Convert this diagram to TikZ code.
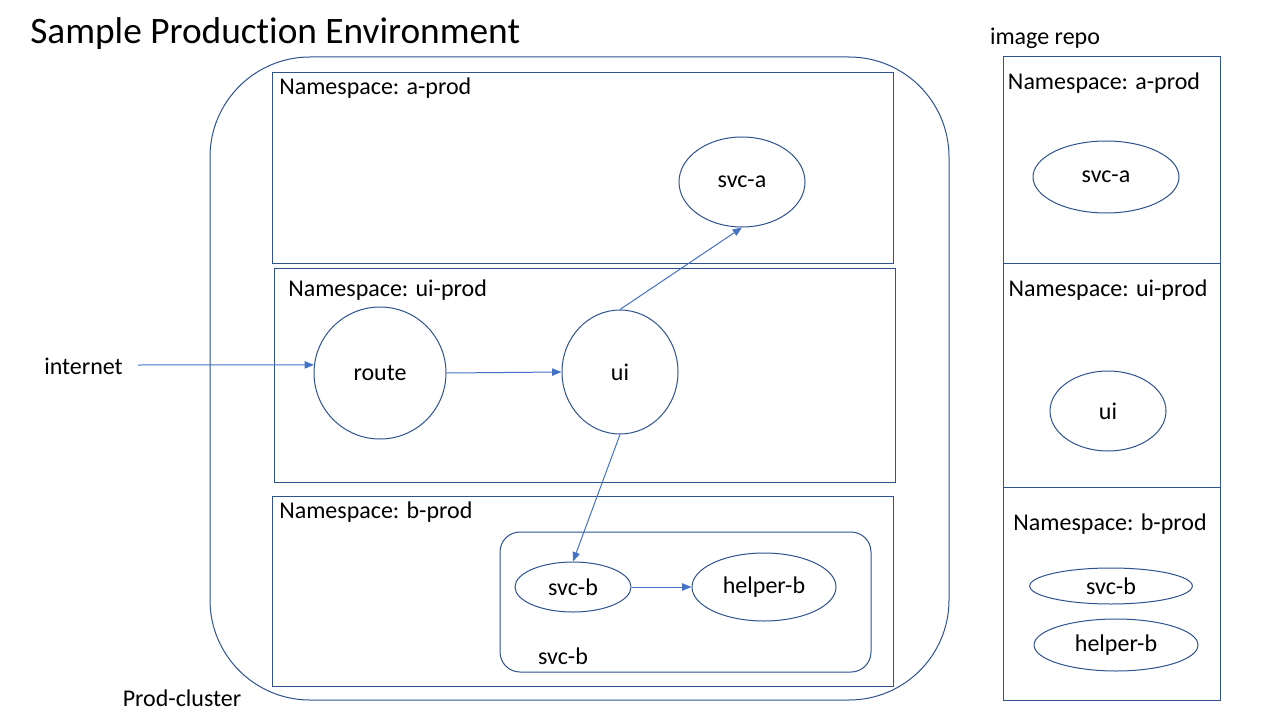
\documentclass[tikz,border=0pt]{standalone}
\usepackage{fontspec}
\setmainfont{Carlito}[Ligatures={NoCommon,NoRequired,NoContextual}]
\usetikzlibrary{shapes.geometric,arrows.meta}
\definecolor{edge}{HTML}{2F528F}
\definecolor{arrowc}{HTML}{4472C4}
\begin{document}
\begin{tikzpicture}[x=0.75pt,y=-0.75pt,
  lbl/.style={font=\fontsize{18}{21}\selectfont, inner sep=0pt, text=black},
  box/.style={draw=edge, line width=0.75pt},
  ell/.style={ellipse, draw=edge, line width=0.75pt, inner sep=0pt, font=\fontsize{18}{21}\selectfont},
  conn/.style={draw=arrowc, line width=0.75pt, -{Triangle[length=7pt,width=5.5pt]}}]
\useasboundingbox (0,0) rectangle (1280,720);
\fill[white] (0,0) rectangle (1280,720);

\node[anchor=west, inner sep=0pt, font=\fontsize{28}{32}\selectfont] (title) at (30,34) {Sample Product\kern0pt ion Environment};

% cluster
\draw[box, rounded corners=75pt] (210,57) rectangle (949,700);
\node[lbl] (prodcl) at (182,698) {Prod-cluster};

% namespaces
\draw[box] (272,73) rectangle (893,263);
\node[lbl, anchor=west] (nsa) at (279,88) {Namespace: a-prod};
\draw[box] (274,268) rectangle (895,482);
\node[lbl, anchor=west] (nsui) at (288,290) {Namespace: ui-prod};
\draw[box] (272,496) rectangle (893,686);
\node[lbl, anchor=west] (nsb) at (279,512) {Namespace: b-prod};
\draw[box, rounded corners=15pt] (500,532) rectangle (871,672);
\node[lbl] (grpb) at (563,656) {svc-b};

% nodes
\node[ell, minimum width=94.5pt, minimum height=67.5pt] (svca) at (742,182) {svc-a};
\node[ell, minimum width=99pt, minimum height=99pt] (route) at (380,373) {route};
\node[ell, minimum width=87pt, minimum height=93pt] (ui) at (620,372) {ui};
\node[ell, minimum width=87pt, minimum height=37.5pt] (svcb) at (573,587) {svc-b};
\node[ell, minimum width=108pt, minimum height=51pt] (helperb) at (764,587) {helper-b};
\node[lbl, anchor=west] (internet) at (44,366) {internet};
\coordinate (inetstart) at (138,365);

% connectors
\draw[conn] (inetstart) -- (route.173);
\draw[conn] (route.east) -- (ui.west);
\draw[conn] (ui.north) -- (svca.south);
\draw[conn] (ui.south) -- (svcb.north);
\draw[conn] (svcb.east) -- (helperb.west);

% image repo
\node[lbl] (repo) at (1045,38) {image repo};
\draw[box] (1003,57) rectangle (1220,700);
\draw[box] (1003,263) -- (1220,263);
\draw[box] (1003,487) -- (1220,487);
\node[lbl] (rnsa) at (1104,83) {Namespace: a-prod};
\node[ell, minimum width=109.5pt, minimum height=54pt] (rsvca) at (1106,177) {svc-a};
\node[lbl] (rnsui) at (1108,290) {Namespace: ui-prod};
\node[ell, minimum width=87pt, minimum height=60pt] (rui) at (1108,411) {ui};
\node[lbl] (rnsb) at (1110,524) {Namespace: b-prod};
\node[ell, minimum width=122pt, minimum height=27pt] (rsvcb) at (1111,586) {svc-b};
\node[ell, minimum width=123pt, minimum height=39pt] (rhelperb) at (1116,645) {helper-b};
\end{tikzpicture}
\end{document}
